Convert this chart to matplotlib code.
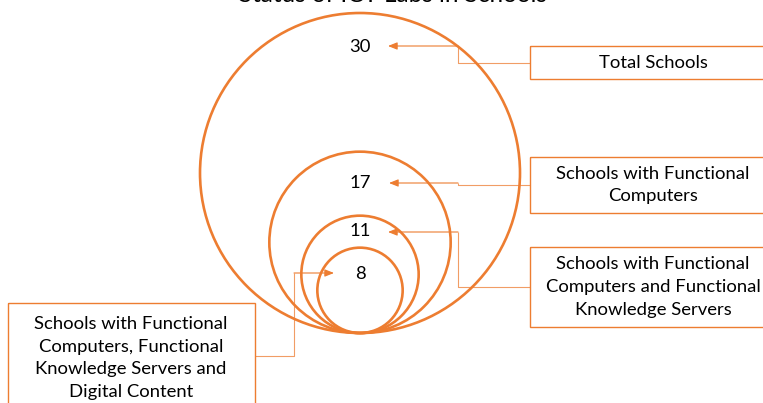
import matplotlib
matplotlib.use("Agg")
import matplotlib.pyplot as plt
from matplotlib.patches import Circle, Rectangle

# Data
values = [30, 17, 11, 8]
value_labels = ["30", "17", "11", "8"]
categories = [
    "Total Schools",
    "Schools with Functional\nComputers",
    "Schools with Functional\nComputers and Functional\nKnowledge Servers",
    "Schools with Functional\nComputers, Functional\nKnowledge Servers and\nDigital Content",
]
title = "Status of ICT Labs in Schools"

# Layout (pixel units, y grows downward)
W, H = 763, 403
ORANGE = "#ED7D31"
FONT = ["Lato", "DejaVu Sans"]
base_x, base_y = 360, 333          # common bottom point of the circles
px_per_unit = 320 / 30             # diameter per unit value
label_offsets = [34, 31, 15, 26]   # distance of the number below the circle top
boxes = [(530, 46, 247, 33), (530, 157, 247, 56), (530, 247, 247, 80), (8, 303, 247, 120)]
text_y = [63, 185, 287, 358]
text_x = [653, 653, 653, 131]
connectors = [
    [(530, 63), (458, 63), (458, 46), (388, 46)],
    [(530, 185), (458, 185), (458, 183), (389, 183)],
    [(530, 287), (458, 287), (458, 232), (388, 232)],
    [(255, 356), (294, 356), (294, 273), (334, 273)],
]

fig = plt.figure(figsize=(W / 100, H / 100), dpi=100)
ax = fig.add_axes([0, 0, 1, 1])
ax.set_xlim(0, W)
ax.set_ylim(H, 0)
ax.set_aspect("equal")
ax.axis("off")

for v, lab, off in zip(values, value_labels, label_offsets):
    r = v * px_per_unit / 2
    ax.add_patch(Circle((base_x, base_y - r), r, fill=False, ec=ORANGE, lw=1.9))
    ax.text(base_x, base_y - 2 * r + off, lab, ha="center", va="center",
            fontsize=13.3, family=FONT, color="black")

for (x, y, w, h), cat, tx, ty in zip(boxes, categories, text_x, text_y):
    ax.add_patch(Rectangle((x, y), w, h, fill=False, ec=ORANGE, lw=1.0))
    ax.text(tx, ty, cat, ha="center", va="center", fontsize=13.3, family=FONT,
            color="black", linespacing=1.52)

for pts in connectors:
    xs = [p[0] for p in pts[:-1]]
    ys = [p[1] for p in pts[:-1]]
    ax.plot(xs, ys, color=ORANGE, lw=0.8, alpha=0.75, solid_capstyle="butt")
    ax.annotate("", xy=pts[-1], xytext=pts[-2],
                arrowprops=dict(arrowstyle="-|>,head_length=0.55,head_width=0.22",
                                color=ORANGE, lw=0.8, shrinkA=0, shrinkB=0))

ax.text(393, 1.5, title, ha="center", va="baseline", fontsize=17.5, family=FONT,
        color="black")

fig.savefig("out.png", dpi=100)
